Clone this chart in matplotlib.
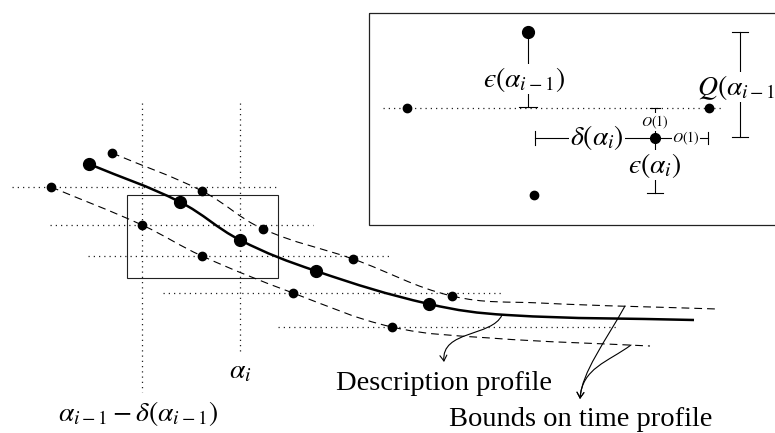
import matplotlib
matplotlib.use("Agg")
import matplotlib.pyplot as plt
from matplotlib.path import Path
from matplotlib.patches import FancyArrowPatch, PathPatch, Rectangle
import numpy as np

plt.rcParams["mathtext.fontset"] = "stix"
plt.rcParams["font.family"] = ["Liberation Serif", "DejaVu Serif"]

# positions are in figure pixels (x right, y down)
# description profile (solid) - marked knots, then unmarked tail
prof_x = [89, 180, 240, 316, 429]
prof_y = [164, 202, 240, 271, 304]
prof_tail_x = [507, 694]
prof_tail_y = [315, 320]

# upper bound (dashed)
up_x = [112, 202, 263, 353, 452]
up_y = [153, 191, 229, 259, 296]
up_tail_x = [540, 717]
up_tail_y = [303, 309]

# lower bound (dashed)
lo_x = [51, 142, 202, 293, 392]
lo_y = [187, 225, 256, 293, 327]
lo_tail_x = [490, 650]
lo_tail_y = [338, 346]

# dotted grid lines: (y, x0, x1) and (x, y0, y1)
hgrid_y = [187, 225, 256, 293, 327]
hgrid_x0 = [12, 50, 88, 163, 278]
hgrid_x1 = [277, 313, 390, 503, 617]
vgrid_x = [142, 240]
vgrid_y1 = [392, 353]

# zoom box and inset frame
zoom_box = (127, 195, 278, 278)
inset_box = (369, 13, 790, 225)

EPS = "\u03f5"


def smooth_path(xs, ys, t=0.38):
    # cubic bezier through the knots, tangent = direction of neighbours
    pts = np.column_stack([xs, ys]).astype(float)
    n = len(pts)
    tang = []
    for i in range(n):
        d = pts[min(i + 1, n - 1)] - pts[max(i - 1, 0)]
        tang.append(d / np.hypot(*d))
    verts = [pts[0]]
    codes = [Path.MOVETO]
    for i in range(n - 1):
        L = np.hypot(*(pts[i + 1] - pts[i]))
        verts += [pts[i] + tang[i] * L * t, pts[i + 1] - tang[i + 1] * L * t, pts[i + 1]]
        codes += [Path.CURVE4] * 3
    return Path(verts, codes)


fig = plt.figure(figsize=(7.75, 4.33), dpi=100)
ax = fig.add_axes([0, 0, 1, 1])
ax.set_xlim(0, 775)
ax.set_ylim(433, 0)
ax.axis("off")

dot = dict(color="#222222", lw=0.9, ls=(0, (1, 3.2)), zorder=1)
for y, a, b in zip(hgrid_y, hgrid_x0, hgrid_x1):
    ax.plot([a, b], [y, y], **dot)
for x, b in zip(vgrid_x, vgrid_y1):
    ax.plot([x, x], [103, b], **dot)

ax.add_patch(Rectangle((zoom_box[0], zoom_box[1]), zoom_box[2] - zoom_box[0],
                       zoom_box[3] - zoom_box[1], fill=False, ec="#222222", lw=0.8, zorder=2))

# curves
ax.add_patch(PathPatch(smooth_path(prof_x + prof_tail_x, prof_y + prof_tail_y),
                       fill=False, lw=1.8, ec="black", zorder=3))
for xs, ys, tx, ty in [(up_x, up_y, up_tail_x, up_tail_y), (lo_x, lo_y, lo_tail_x, lo_tail_y)]:
    ax.add_patch(PathPatch(smooth_path(xs + tx, ys + ty), fill=False, lw=0.8,
                           ec="black", ls=(0, (7, 4.5)), zorder=3))
ax.plot(prof_x, prof_y, "o", color="black", ms=8.5, zorder=4)
ax.plot(up_x, up_y, "o", color="black", ms=6, zorder=4)
ax.plot(lo_x, lo_y, "o", color="black", ms=6, zorder=4)

ax.text(240, 372, r"$\alpha_i$", fontsize=20, ha="center", va="center")
ax.text(138, 413, r"$\alpha_{i-1}-\delta(\alpha_{i-1})$", fontsize=20, ha="center", va="center")

# annotations
ax.text(444, 383, "Description profile", fontsize=20.5, ha="center", va="center")
ax.text(581, 419, "Bounds on time profile", fontsize=20.5, ha="center", va="center")
arr = dict(arrowstyle="->,head_length=4,head_width=2.5", lw=0.8, color="black",
           shrinkA=0, shrinkB=0, zorder=5)
ax.add_patch(FancyArrowPatch(path=Path([(502, 315), (492, 337), (441, 330), (444, 362)],
                                       [Path.MOVETO] + [Path.CURVE4] * 3), **arr))
ax.add_patch(FancyArrowPatch(path=Path([(625, 306), (605, 342), (582, 372), (580, 399)],
                                       [Path.MOVETO] + [Path.CURVE4] * 3), **arr))
ax.add_patch(FancyArrowPatch(path=Path([(631, 345), (608, 362), (582, 368), (580, 399)],
                                       [Path.MOVETO] + [Path.CURVE4] * 3), **arr))

# inset
ax.add_patch(Rectangle((inset_box[0], inset_box[1]), inset_box[2] - inset_box[0],
                       inset_box[3] - inset_box[1], fill=False, ec="#222222", lw=0.9,
                       zorder=2, clip_on=False))
white = dict(fc="white", ec="none", pad=0.5)
ln = dict(color="black", lw=0.8, zorder=3)

ax.plot([383, 723], [108, 108], **dot)
ax.plot([407, 709], [108, 108], "o", color="black", ms=6, zorder=4)
ax.plot([534], [195], "o", color="black", ms=6, zorder=4)

# eps(alpha_{i-1})
ax.plot([528, 528], [32, 107], **ln)
ax.plot([519, 537], [107, 107], **ln)
ax.plot([528], [32], "o", color="black", ms=8.5, zorder=4)
ax.text(524, 79, "$" + EPS + r"(\alpha_{i-1})$", fontsize=20, ha="center", va="center",
        bbox=white, zorder=4)

# Q(alpha_{i-1})
ax.plot([740, 740], [32, 137], **ln)
ax.plot([732, 748], [32, 32], **ln)
ax.plot([732, 748], [137, 137], **ln)
ax.text(697, 87, r"$Q(\alpha_{i-1})$", fontsize=20, ha="left", va="center",
        bbox=white, zorder=4, clip_on=True)

# delta(alpha_i) and O(1)
ax.plot([535, 708], [138, 138], **ln)
ax.plot([535, 535], [131, 145], **ln)
ax.plot([708, 708], [132, 144], **ln)
ax.plot([655, 655], [108, 193], **ln)
ax.plot([650, 660], [108, 108], **ln)
ax.plot([647, 663], [193, 193], **ln)
ax.plot([655], [138], "o", color="black", ms=7, zorder=4)
ax.text(597, 138, r"$\delta(\alpha_i)$", fontsize=20, ha="center", va="center",
        bbox=white, zorder=4)
ax.text(686, 138, r"$O(1)$", fontsize=10, ha="center", va="center", bbox=white, zorder=4)
ax.text(655, 122, r"$O(1)$", fontsize=10, ha="center", va="center", bbox=white, zorder=4)
ax.text(655, 165, "$" + EPS + r"(\alpha_i)$", fontsize=20, ha="center", va="center",
        bbox=white, zorder=4)

fig.savefig("out.png", dpi=100)
